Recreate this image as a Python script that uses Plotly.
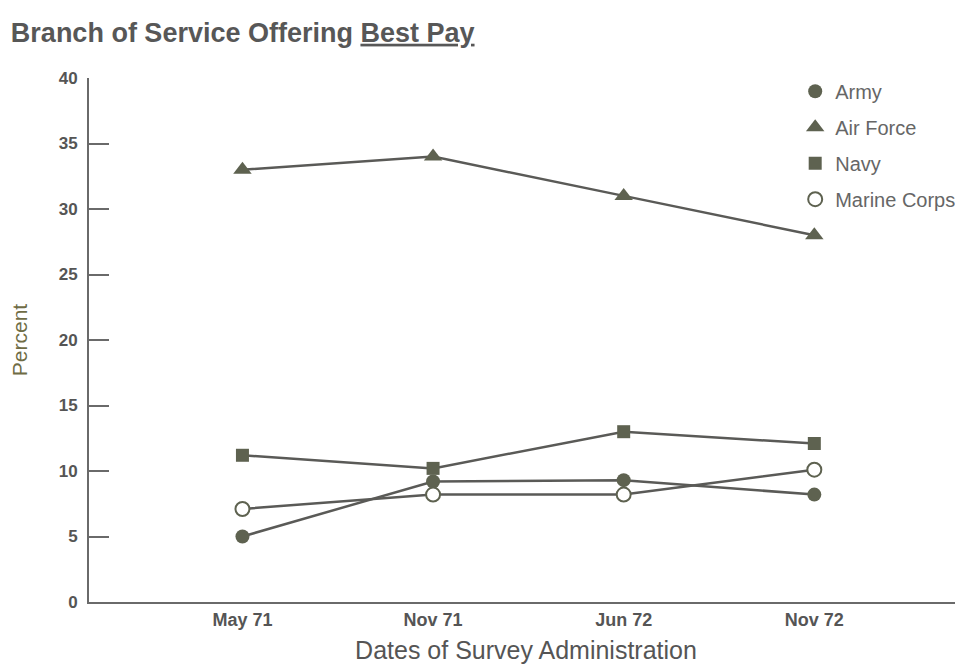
import plotly.graph_objects as go

dates = ["May 71", "Nov 71", "Jun 72", "Nov 72"]
army = [5, 9.2, 9.3, 8.2]
air_force = [33, 34, 31, 28]
navy = [11.2, 10.2, 13, 12.1]
marine = [7.1, 8.2, 8.2, 10.1]

y_ticks = [0, 5, 10, 15, 20, 25, 30, 35, 40]

xs = list(range(len(dates)))
line_color = "#5a5a57"
mk_color = "#5e6250"

def marker_for(name):
    if name == "Army":
        return dict(symbol="circle", size=14, color=mk_color)
    if name == "Air Force":
        return dict(symbol="triangle-up", size=16, color=mk_color)
    if name == "Navy":
        return dict(symbol="square", size=13, color=mk_color)
    return dict(symbol="circle", size=14, color="white", line=dict(width=2, color=mk_color))

series = [("Army", army), ("Air Force", air_force), ("Navy", navy), ("Marine Corps", marine)]

fig = go.Figure()
for name, vals in series:
    fig.add_trace(go.Scatter(x=xs, y=vals, mode="lines+markers", name=name,
                             line=dict(color=line_color, width=2.5),
                             marker=marker_for(name), showlegend=False))
for i, (name, vals) in enumerate(series):
    fig.add_trace(go.Scatter(x=[None], y=[None], mode="markers", name=name,
                             marker=marker_for(name), showlegend=True, legendgroup=f"g{i}"))

fig.update_layout(
    width=955, height=656,
    margin=dict(l=81, r=0, t=70, b=62),
    paper_bgcolor="white", plot_bgcolor="white",
    font=dict(family="Liberation Sans, Arial, sans-serif", color="#5a5a5a"),
    title=dict(text="<b>Branch of Service Offering <u>Best Pay</u></b>",
               x=0.003, xanchor="left", y=0.963, yanchor="middle",
               font=dict(size=27, color="#575757")),
    xaxis=dict(range=[-0.805, 3.78], tickvals=xs, ticktext=[f"<b>{d}</b>" for d in dates],
               showgrid=False, zeroline=False, showline=True, linecolor="#6a6a6a",
               linewidth=2, ticks="", tickfont=dict(size=18, color="#555555"),
               title=dict(text="Dates of Survey Administration", standoff=18,
                          font=dict(size=25, color="#555555"))),
    yaxis=dict(range=[0, 40], tickvals=y_ticks, ticktext=[f"<b>{t}</b>" for t in y_ticks],
               showgrid=False, zeroline=False, showline=True, linecolor="#6a6a6a",
               linewidth=2, ticks="inside", ticklen=20, tickwidth=2, tickcolor="#6a6a6a",
               ticklabelstandoff=6,
               tickfont=dict(size=17, color="#555555"),
               title=dict(text="Percent", standoff=25, font=dict(size=21, color="#6f6c45"))),
    legend=dict(x=0.808, y=1.012, xanchor="left", yanchor="top",
                font=dict(size=20, color="#666666"), tracegroupgap=7,
                bgcolor="rgba(0,0,0,0)", itemwidth=30),
)

fig.write_html("out.html")
